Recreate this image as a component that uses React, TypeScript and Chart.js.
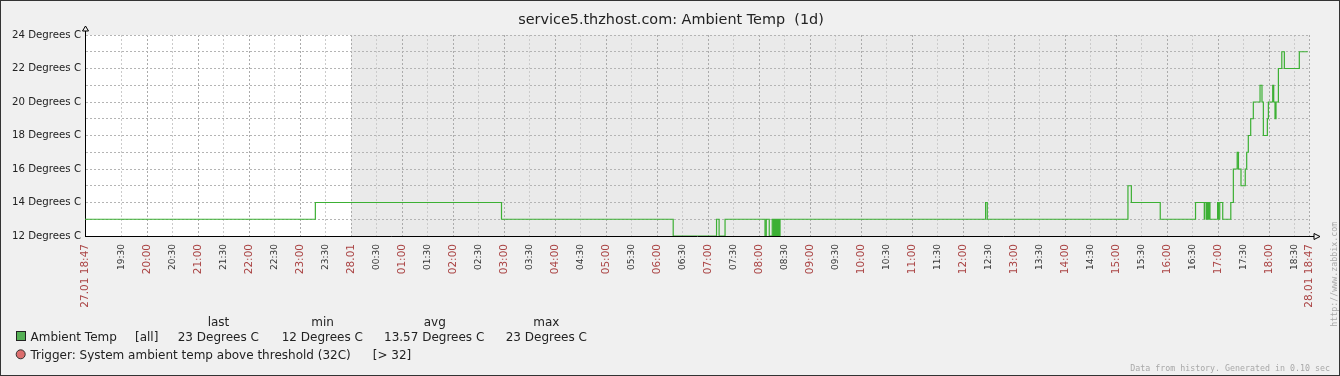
import React, { useEffect, useRef } from 'react';
import { Chart, registerables } from 'chart.js';

Chart.register(...registerables);

// ---------- data ----------
const TITLE = 'service5.thzhost.com: Ambient Temp  (1d)';
const START_CLOCK_MIN = 18 * 60 + 47; // 27.01 18:47
const PERIOD_MIN = 1440;

const xTickLabels = [
  '27.01 18:47', '19:30', '20:00', '20:30', '21:00', '21:30', '22:00', '22:30', '23:00', '23:30',
  '28.01', '00:30', '01:00', '01:30', '02:00', '02:30', '03:00', '03:30', '04:00', '04:30',
  '05:00', '05:30', '06:00', '06:30', '07:00', '07:30', '08:00', '08:30', '09:00', '09:30',
  '10:00', '10:30', '11:00', '11:30', '12:00', '12:30', '13:00', '13:30', '14:00', '14:30',
  '15:00', '15:30', '16:00', '16:30', '17:00', '17:30', '18:00', '18:30', '28.01 18:47',
];

const yTickValues = [12, 13, 14, 15, 16, 17, 18, 19, 20, 21, 22, 23, 24];
const yUnit = 'Degrees C';

// minutes since 27.01 18:47
const tempTimes = [
  0, 271, 490, 692, 743, 746, 753, 800, 801.5, 805, 808.5,
  810, 810.7, 811.4, 812.1, 812.8, 813.5, 814.2, 814.9, 815.6, 816.3, 817, 817.7,
  1059.5, 1061.5, 1227, 1231, 1265, 1306.5,
  1316.8, 1317.5, 1319.5, 1320, 1320.7, 1321.4, 1322.1, 1322.8, 1323.5,
  1332.5, 1333.5, 1335, 1338.5, 1348, 1351, 1355.5, 1357, 1360, 1365, 1366.7,
  1368.6, 1371.4, 1374.5, 1382.4, 1384.7, 1386.3, 1391, 1392.2, 1397.3, 1398.5,
  1400, 1401.2, 1404, 1408, 1411, 1428.6, 1438.5,
];
const tempValues = [
  13, 14, 13, 12, 13, 12, 13, 12, 13, 12, 13,
  12, 13, 12, 13, 12, 13, 12, 13, 12, 13, 12, 13,
  14, 13, 15, 14, 13, 14,
  13, 14, 13, 14, 13, 14, 13, 14, 13,
  14, 13, 14, 13, 14, 16, 17, 16, 15, 16, 17,
  18, 19, 20, 21, 20, 18, 19, 20, 21, 20,
  19, 20, 22, 23, 22, 23, 23,
];

const statHeaders = ['last', 'min', 'avg', 'max'];
const statValues = ['23 Degrees C', '12 Degrees C', '13.57 Degrees C', '23 Degrees C'];
const seriesName = 'Ambient Temp';
const seriesScope = '[all]';
const triggerText = 'Trigger: System ambient temp above threshold (32C)';
const triggerCond = '[> 32]';
const footerText = 'Data from history. Generated in 0.10 sec';
const sideText = 'http://www.zabbix.com';

// ---------- helpers ----------
function labelToMinutes(label: string, i: number): number {
  if (i === 0) return 0;
  if (i === xTickLabels.length - 1) return PERIOD_MIN;
  if (label.indexOf('.') >= 0) return PERIOD_MIN - START_CLOCK_MIN;
  const [h, m] = label.split(':').map(Number);
  return (h * 60 + m - START_CLOCK_MIN + PERIOD_MIN) % PERIOD_MIN;
}
const xTickValues = xTickLabels.map(labelToMinutes);
const labelByValue = new Map<number, string>();
xTickValues.forEach((v, i) => labelByValue.set(v, xTickLabels[i]));
const isMajor = (v: number) => {
  const l = labelByValue.get(v) || '';
  return l.indexOf('.') >= 0 || l.endsWith(':00');
};

const FONT = '"DejaVu Sans", sans-serif';
const MONO = '"DejaVu Sans Mono", monospace';
const LINE_COLOR = '#3cb034';

const zabbixPlugin = {
  id: 'zabbixDecor',
  beforeDraw(chart: any) {
    const { ctx, chartArea, scales } = chart;
    ctx.save();
    ctx.fillStyle = '#f0f0f0';
    ctx.fillRect(0, 0, chart.width, chart.height);
    const midX = scales.x.getPixelForValue(PERIOD_MIN - START_CLOCK_MIN);
    ctx.fillStyle = '#ffffff';
    ctx.fillRect(chartArea.left, chartArea.top, midX - chartArea.left, chartArea.bottom - chartArea.top);
    ctx.fillStyle = '#eaeaea';
    ctx.fillRect(midX, chartArea.top, chartArea.right - midX, chartArea.bottom - chartArea.top);
    ctx.restore();
  },
  afterDraw(chart: any) {
    const { ctx, chartArea } = chart;
    const L = Math.round(chartArea.left) + 0.5;
    const B = Math.round(chartArea.bottom) + 0.5;
    const R = chartArea.right;
    const T = chartArea.top;
    ctx.save();
    // axis extensions + arrows
    ctx.strokeStyle = '#000';
    ctx.lineWidth = 1;
    ctx.beginPath();
    ctx.moveTo(L, T + 1);
    ctx.lineTo(L, T - 4);
    ctx.moveTo(R - 1, B);
    ctx.lineTo(R + 5, B);
    ctx.stroke();
    ctx.fillStyle = '#f0f0f0';
    ctx.beginPath();
    ctx.moveTo(L, T - 9);
    ctx.lineTo(L - 3, T - 4);
    ctx.lineTo(L + 3, T - 4);
    ctx.closePath();
    ctx.fill();
    ctx.stroke();
    ctx.beginPath();
    ctx.moveTo(R + 11, B);
    ctx.lineTo(R + 5, B - 3);
    ctx.lineTo(R + 5, B + 3);
    ctx.closePath();
    ctx.fill();
    ctx.stroke();

    // title
    ctx.fillStyle = '#222';
    ctx.font = `14.4px ${FONT}`;
    ctx.textAlign = 'center';
    ctx.textBaseline = 'alphabetic';
    ctx.fillText(TITLE, 671, 23.5);

    // legend header
    ctx.font = `12px ${FONT}`;
    const headerCenters = [218.5, 322.5, 434.8, 546.3];
    statHeaders.forEach((h, i) => ctx.fillText(h, headerCenters[i], 326));

    // legend row 1
    ctx.textAlign = 'left';
    ctx.fillStyle = '#55b055';
    ctx.fillRect(16, 331, 10, 10);
    ctx.strokeStyle = '#222';
    ctx.strokeRect(16.5, 331.5, 9, 9);
    ctx.fillStyle = '#222';
    ctx.fillText(seriesName, 30.5, 340.5);
    ctx.fillText(seriesScope, 135, 340.5);
    const statStarts = [177.7, 281.7, 384, 505.7];
    statValues.forEach((s, i) => ctx.fillText(s, statStarts[i], 340.5));

    // legend row 2 (trigger)
    ctx.beginPath();
    ctx.arc(20.7, 354.3, 4.5, 0, Math.PI * 2);
    ctx.fillStyle = '#dc6e6e';
    ctx.fill();
    ctx.strokeStyle = '#333';
    ctx.stroke();
    ctx.fillStyle = '#222';
    ctx.fillText(triggerText, 30.5, 358.5);
    ctx.fillText(triggerCond, 372.7, 358.5);

    // footer
    ctx.font = `8.3px ${MONO}`;
    ctx.fillStyle = '#a8a8a8';
    ctx.textAlign = 'right';
    ctx.fillText(footerText, 1330, 371);
    // side text
    ctx.save();
    ctx.translate(1336.5, 326.7);
    ctx.rotate(-Math.PI / 2);
    ctx.textAlign = 'left';
    ctx.fillText(sideText, 0, 0);
    ctx.restore();

    // outer border
    ctx.strokeStyle = '#333';
    ctx.lineWidth = 1;
    ctx.strokeRect(0.5, 0.5, chart.width - 1, chart.height - 1);
    ctx.restore();
  },
};

export default function App() {
  const canvasRef = useRef<HTMLCanvasElement | null>(null);

  useEffect(() => {
    document.body.style.margin = '0';
    const canvas = canvasRef.current;
    if (!canvas) return;
    const chart = new Chart(canvas, {
      type: 'line',
      data: {
        datasets: [
          {
            label: seriesName,
            data: tempTimes.map((t, i) => ({ x: t, y: tempValues[i] })),
            stepped: true,
            borderColor: LINE_COLOR,
            borderWidth: 1.2,
            pointRadius: 0,
            fill: false,
          },
        ],
      },
      options: {
        animation: false,
        responsive: false,
        maintainAspectRatio: false,
        devicePixelRatio: 1,
        layout: { padding: { top: 35, right: 31, bottom: 0, left: 0 } },
        plugins: {
          legend: { display: false },
          title: { display: false },
          tooltip: { enabled: false },
        },
        scales: {
          x: {
            type: 'linear',
            min: 0,
            max: PERIOD_MIN,
            afterBuildTicks: (s: any) => {
              s.ticks = xTickValues.map((v) => ({ value: v }));
            },
            afterFit: (s: any) => {
              s.height = 140;
            },
            grid: {
              drawTicks: false,
              lineWidth: 1,
              color: (c: any) => (c.tick && isMajor(c.tick.value) ? '#ababab' : '#cbcbcb'),
            },
            border: { display: true, color: '#000', width: 1, dash: [2, 2] },
            ticks: {
              autoSkip: false,
              minRotation: 90,
              maxRotation: 90,
              padding: 8,
              callback: (v: any) => labelByValue.get(Number(v)) ?? '',
              color: (c: any) => (c.tick && isMajor(c.tick.value) ? '#aa4444' : '#333333'),
              font: (c: any) => ({
                family: FONT,
                size: c.tick && isMajor(c.tick.value) ? 10.5 : 9,
              }),
            },
          },
          y: {
            type: 'linear',
            min: 12,
            max: 24,
            afterBuildTicks: (s: any) => {
              s.ticks = yTickValues.map((v) => ({ value: v }));
            },
            afterFit: (s: any) => {
              s.width = 85;
            },
            grid: { drawTicks: false, lineWidth: 1, color: '#b4b4b4' },
            border: { display: true, color: '#000', width: 1, dash: [2, 2] },
            ticks: {
              padding: 4,
              color: '#222',
              font: { family: FONT, size: 10.2 },
              callback: (v: any) => (Number(v) % 2 === 0 ? `${v} ${yUnit}` : ''),
            },
          },
        },
      },
      plugins: [zabbixPlugin],
    } as any);
    return () => chart.destroy();
  }, []);

  return (
    <div style={{ width: 1340, height: 376 }}>
      <canvas ref={canvasRef} width={1340} height={376} style={{ display: 'block' }} />
    </div>
  );
}
